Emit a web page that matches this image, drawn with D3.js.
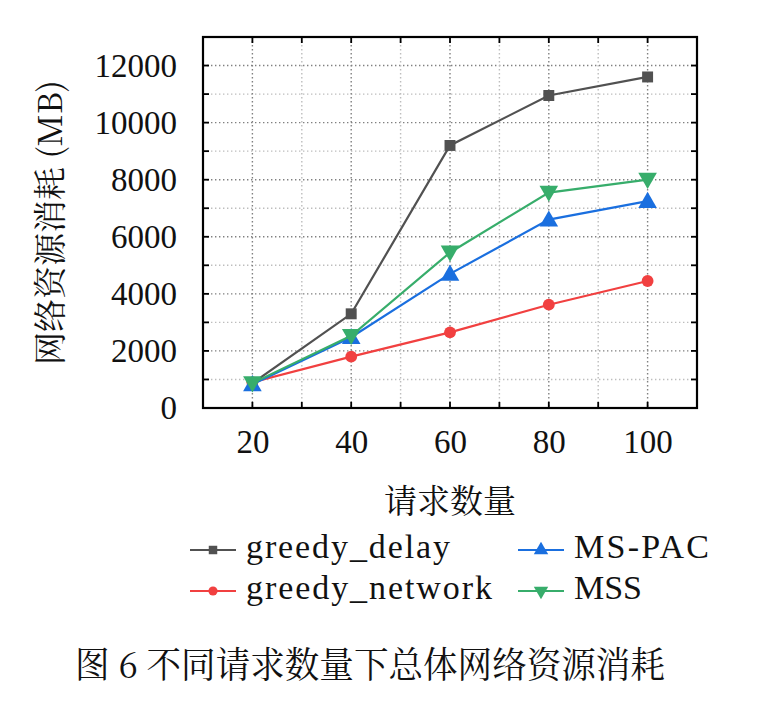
<!DOCTYPE html>
<html><head><meta charset="utf-8">
<script src="https://cdn.jsdelivr.net/npm/d3@7"></script>
<style>
html,body{margin:0;padding:0;background:#fff;}
svg{display:block;}
</style></head>
<body>
<svg id="chart" width="770" height="720"></svg>
<script>
// ---- data ----
const categories = [20, 40, 60, 80, 100];
const greedyDelay = [870, 3300, 9200, 10950, 11600];
const greedyNetwork = [900, 1800, 2650, 3620, 4450];
const msPac = [830, 2480, 4700, 6600, 7250];
const mss = [870, 2530, 5450, 7550, 8000];
const seriesNames = ["greedy_delay", "greedy_network", "MS-PAC", "MSS"];
const yTickLabels = [0, 2000, 4000, 6000, 8000, 10000, 12000];
const yMinorTicks = [1000, 3000, 5000, 7000, 9000, 11000];
const xMinorTicks = [30, 50, 70, 90];
const xLabel = "请求数量";
const yLabel = "网络资源消耗 (MB)";
const caption = "图 6 不同请求数量下总体网络资源消耗";

const colors = ["#515151", "#f14040", "#1a6fdf", "#37ad6b"];
const symbols = [d3.symbolSquare, d3.symbolCircle, d3.symbolTriangle, d3.symbolTriangle];
const rotations = [0, 0, 0, 180];
const symSizes = [120, 110, 150, 150];
const legendTextWidths = [204, 246, 135, 68];
const allSeries = [greedyDelay, greedyNetwork, msPac, mss];

const svg = d3.select("#chart");
const L = 203, R = 697, T = 37, B = 408;
const x = d3.scaleLinear().domain([10, 110]).range([L, R]);
const y = d3.scaleLinear().domain([0, 13000]).range([B, T]);
const serif = "'Liberation Serif', 'Times New Roman', serif";
const cjk = "'Noto Serif CJK SC', 'Noto Sans CJK SC', serif";

// grid
const g = svg.append("g");
const dash = "1.4,2.6";
g.selectAll(".hminor").data(yMinorTicks).join("line")
  .attr("x1", L).attr("x2", R).attr("y1", d => y(d)).attr("y2", d => y(d))
  .attr("stroke", "#bdbdbd").attr("stroke-width", 1.4).attr("stroke-dasharray", dash);
g.selectAll(".hmajor").data(yTickLabels.filter(d => d > 0)).join("line")
  .attr("x1", L).attr("x2", R).attr("y1", d => y(d)).attr("y2", d => y(d))
  .attr("stroke", "#808080").attr("stroke-width", 1.4).attr("stroke-dasharray", dash);
g.selectAll(".vminor").data(xMinorTicks).join("line")
  .attr("y1", T).attr("y2", B).attr("x1", d => x(d)).attr("x2", d => x(d))
  .attr("stroke", "#bdbdbd").attr("stroke-width", 1.4).attr("stroke-dasharray", dash);
g.selectAll(".vmajor").data(categories).join("line")
  .attr("y1", T).attr("y2", B).attr("x1", d => x(d)).attr("x2", d => x(d))
  .attr("stroke", "#808080").attr("stroke-width", 1.4).attr("stroke-dasharray", dash);

// axes (ticks inward)
const yAll = yTickLabels.concat(yMinorTicks);
const xAll = categories.concat(xMinorTicks);
const axL = d3.axisLeft(y).tickValues(yTickLabels).tickSize(0).tickPadding(26)
  .tickFormat(d3.format("d"));
const gl = svg.append("g").attr("transform", `translate(${L},0)`).call(axL);
gl.select(".domain").remove();
gl.selectAll("text").attr("font-family", serif).attr("font-size", 33).attr("fill", "#111");
const axB = d3.axisBottom(x).tickValues(categories).tickSize(0).tickPadding(22);
const gb = svg.append("g").attr("transform", `translate(0,${B})`).call(axB);
gb.select(".domain").remove();
gb.selectAll("text").attr("font-family", serif).attr("font-size", 33).attr("fill", "#111");

// tick marks
const tk = svg.append("g").attr("stroke", "#000").attr("stroke-width", 1.8);
tk.selectAll(".tl").data(yAll).join("line").attr("x1", L).attr("x2", L + 6).attr("y1", d => y(d)).attr("y2", d => y(d));
tk.selectAll(".tr").data(yAll).join("line").attr("x1", R).attr("x2", R - 6).attr("y1", d => y(d)).attr("y2", d => y(d));
tk.selectAll(".tb").data(xAll).join("line").attr("y1", B).attr("y2", B - 6).attr("x1", d => x(d)).attr("x2", d => x(d));
tk.selectAll(".tt").data(xAll).join("line").attr("y1", T).attr("y2", T + 6).attr("x1", d => x(d)).attr("x2", d => x(d));

// frame
svg.append("rect").attr("x", L).attr("y", T).attr("width", R - L).attr("height", B - T)
  .attr("fill", "none").attr("stroke", "#000").attr("stroke-width", 2.2);

// series
const line = d3.line().x((d, i) => x(categories[i])).y(d => y(d));
allSeries.forEach((vals, si) => {
  const sg = svg.append("g");
  sg.append("path").datum(vals).attr("d", line).attr("fill", "none")
    .attr("stroke", colors[si]).attr("stroke-width", 2.2);
  sg.selectAll("path.m").data(vals).join("path").attr("class", "m")
    .attr("d", d3.symbol().type(symbols[si]).size(symSizes[si]))
    .attr("transform", (d, i) => `translate(${x(categories[i])},${y(d) + (si === 2 ? 1.5 : si === 3 ? -1.5 : 0)}) rotate(${rotations[si]})`)
    .attr("fill", colors[si]);
});

// axis labels
svg.append("text").attr("x", (L + R) / 2).attr("y", 513).attr("text-anchor", "middle")
  .attr("font-family", cjk).attr("font-size", 33).attr("fill", "#111").text(xLabel);
svg.append("text").attr("transform", `translate(62,${(T + B) / 2}) rotate(-90)`)
  .attr("text-anchor", "middle").attr("font-family", cjk).attr("font-size", 33).attr("fill", "#111")
  .text(yLabel);

// legend
const legPos = [[190, 550], [190, 591], [518, 550], [518, 591]];
seriesNames.forEach((name, si) => {
  const [lx, ly] = legPos[si];
  const lg = svg.append("g");
  lg.append("line").attr("x1", lx).attr("x2", lx + 46).attr("y1", ly).attr("y2", ly)
    .attr("stroke", colors[si]).attr("stroke-width", 2.2);
  lg.append("path").attr("d", d3.symbol().type(symbols[si]).size(symSizes[si] * 0.6))
    .attr("transform", `translate(${lx + 23},${ly}) rotate(${rotations[si]})`).attr("fill", colors[si]);
  lg.append("text").attr("x", lx + 56).attr("y", ly + 8).attr("font-family", serif)
    .attr("font-size", 34).attr("fill", "#111")
    .attr("textLength", legendTextWidths[si]).attr("lengthAdjust", "spacing").text(name);
});

// caption
svg.append("text").attr("x", 75).attr("y", 678).attr("font-family", cjk)
  .attr("font-size", 36).attr("fill", "#111")
  .attr("textLength", 590).attr("lengthAdjust", "spacingAndGlyphs").text(caption);
</script>
</body></html>
